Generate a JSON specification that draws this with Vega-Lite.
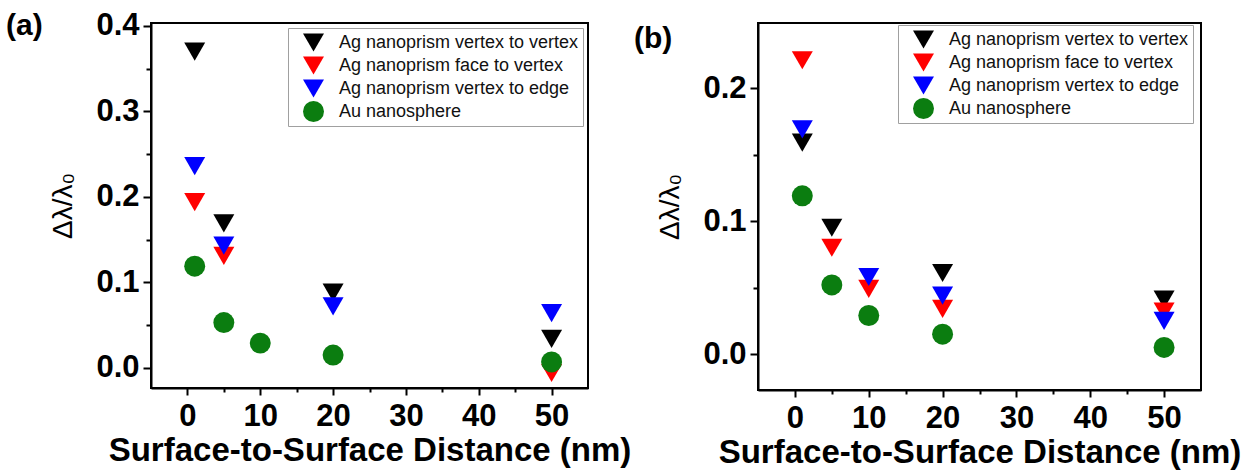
{
  "$schema": "https://vega.github.io/schema/vega-lite/v6.json",
  "background": "white",
  "padding": {"left": 5, "top": 8, "right": 5, "bottom": 0},
  "config": {
    "view": {"stroke": "black", "strokeWidth": 2},
    "axis": {
      "domainColor": "black", "domainWidth": 2, "tickColor": "black", "tickWidth": 2,
      "labelFont": "Liberation Sans", "labelFontWeight": "bold", "labelFontSize": 31, "labelColor": "black",
      "titleColor": "black", "grid": false
    },
    "legend": {
      "orient": "none", "title": null, "strokeColor": "#a0a0a0", "padding": 4,
      "symbolOffset": 11, "labelOffset": 15, "rowPadding": 3,
      "labelFont": "Liberation Sans", "labelFontSize": 18, "labelColor": "#111111",
      "symbolStrokeWidth": 0, "fillColor": "white", "labelLimit": 400
    }
  },
  "data": {"values": [
    {"panel": "a", "series": "Ag nanoprism vertex to vertex", "distance": 1, "ratio": 0.370},
    {"panel": "a", "series": "Ag nanoprism vertex to vertex", "distance": 5, "ratio": 0.169},
    {"panel": "a", "series": "Ag nanoprism vertex to vertex", "distance": 20, "ratio": 0.088},
    {"panel": "a", "series": "Ag nanoprism vertex to vertex", "distance": 50, "ratio": 0.034},
    {"panel": "a", "series": "Ag nanoprism face to vertex", "distance": 1, "ratio": 0.194},
    {"panel": "a", "series": "Ag nanoprism face to vertex", "distance": 5, "ratio": 0.131},
    {"panel": "a", "series": "Ag nanoprism face to vertex", "distance": 50, "ratio": -0.006},
    {"panel": "a", "series": "Ag nanoprism vertex to edge", "distance": 1, "ratio": 0.236},
    {"panel": "a", "series": "Ag nanoprism vertex to edge", "distance": 5, "ratio": 0.143},
    {"panel": "a", "series": "Ag nanoprism vertex to edge", "distance": 20, "ratio": 0.072},
    {"panel": "a", "series": "Ag nanoprism vertex to edge", "distance": 50, "ratio": 0.064},
    {"panel": "a", "series": "Au nanosphere", "distance": 1, "ratio": 0.119},
    {"panel": "a", "series": "Au nanosphere", "distance": 5, "ratio": 0.053},
    {"panel": "a", "series": "Au nanosphere", "distance": 10, "ratio": 0.029},
    {"panel": "a", "series": "Au nanosphere", "distance": 20, "ratio": 0.015},
    {"panel": "a", "series": "Au nanosphere", "distance": 50, "ratio": 0.007},
    {"panel": "b", "series": "Ag nanoprism vertex to vertex", "distance": 1, "ratio": 0.159},
    {"panel": "b", "series": "Ag nanoprism vertex to vertex", "distance": 5, "ratio": 0.095},
    {"panel": "b", "series": "Ag nanoprism vertex to vertex", "distance": 20, "ratio": 0.061},
    {"panel": "b", "series": "Ag nanoprism vertex to vertex", "distance": 50, "ratio": 0.041},
    {"panel": "b", "series": "Ag nanoprism face to vertex", "distance": 1, "ratio": 0.221},
    {"panel": "b", "series": "Ag nanoprism face to vertex", "distance": 5, "ratio": 0.080},
    {"panel": "b", "series": "Ag nanoprism face to vertex", "distance": 10, "ratio": 0.049},
    {"panel": "b", "series": "Ag nanoprism face to vertex", "distance": 20, "ratio": 0.034},
    {"panel": "b", "series": "Ag nanoprism face to vertex", "distance": 50, "ratio": 0.032},
    {"panel": "b", "series": "Ag nanoprism vertex to edge", "distance": 1, "ratio": 0.169},
    {"panel": "b", "series": "Ag nanoprism vertex to edge", "distance": 10, "ratio": 0.058},
    {"panel": "b", "series": "Ag nanoprism vertex to edge", "distance": 20, "ratio": 0.044},
    {"panel": "b", "series": "Ag nanoprism vertex to edge", "distance": 50, "ratio": 0.025},
    {"panel": "b", "series": "Au nanosphere", "distance": 1, "ratio": 0.119},
    {"panel": "b", "series": "Au nanosphere", "distance": 5, "ratio": 0.052},
    {"panel": "b", "series": "Au nanosphere", "distance": 10, "ratio": 0.029},
    {"panel": "b", "series": "Au nanosphere", "distance": 20, "ratio": 0.015},
    {"panel": "b", "series": "Au nanosphere", "distance": 50, "ratio": 0.005}
  ]},
  "bounds": "flush",
  "spacing": 170,
  "resolve": {"legend": {"color": "independent", "shape": "independent", "size": "independent"}},
  "hconcat": [
    {
      "title": {"text": "(a)", "anchor": "start", "frame": "group", "orient": "top", "offset": 0, "dx": -145, "dy": 55, "baseline": "alphabetic", "font": "Liberation Sans", "fontSize": 30, "fontWeight": "bold", "color": "black"},
      "width": 437, "height": 365,
      "transform": [{"filter": "datum.panel === 'a'"}],
      "mark": {"type": "point", "filled": true, "opacity": 1, "strokeWidth": 0},
      "encoding": {
        "x": {"field": "distance", "type": "quantitative",
          "scale": {"domain": [-5, 55], "nice": false, "zero": false},
          "axis": {"values": [0, 5, 10, 15, 20, 25, 30, 35, 40, 45, 50], "labelExpr": "datum.value % 10 === 0 ? datum.label : ''",
            "tickSize": {"condition": {"test": "datum.value % 10 === 0", "value": 7}, "value": 4},
            "labelPadding": 6, "title": "Surface-to-Surface Distance (nm)", "titleFont": "Liberation Sans", "titleFontWeight": "bold", "titleFontSize": 33, "titlePadding": 3}},
        "y": {"field": "ratio", "type": "quantitative",
          "scale": {"domain": [-0.0235, 0.4035], "nice": false, "zero": false},
          "axis": {"values": [0, 0.05, 0.1, 0.15, 0.2, 0.25, 0.3, 0.35, 0.4],
            "labelExpr": "round(datum.value*100) % 10 === 0 ? format(datum.value, '.1f') : ''",
            "tickSize": {"condition": {"test": "round(datum.value*100) % 10 === 0", "value": 8}, "value": 5},
            "labelPadding": 4, "title": "Δλ/λ₀", "titleFont": "Liberation Sans", "titleFontWeight": "normal", "titleFontSize": 28, "titlePadding": 18}},
        "color": {"field": "series", "type": "nominal",
          "scale": {"domain": ["Ag nanoprism vertex to vertex", "Ag nanoprism face to vertex", "Ag nanoprism vertex to edge", "Au nanosphere"], "range": ["#000000", "#ff0000", "#0000ff", "#0b7d10"]},
          "legend": {"legendX": 137, "legendY": 5}},
        "shape": {"field": "series", "type": "nominal",
          "scale": {"domain": ["Ag nanoprism vertex to vertex", "Ag nanoprism face to vertex", "Ag nanoprism vertex to edge", "Au nanosphere"], "range": ["triangle-down", "triangle-down", "triangle-down", "circle"]},
          "legend": {"legendX": 137, "legendY": 5}},
        "size": {"field": "series", "type": "nominal",
          "scale": {"domain": ["Ag nanoprism vertex to vertex", "Ag nanoprism face to vertex", "Ag nanoprism vertex to edge", "Au nanosphere"], "range": [440, 440, 440, 320]},
          "legend": {"legendX": 137, "legendY": 5}}
      }
    },
    {
      "title": {"text": "(b)", "anchor": "start", "frame": "group", "orient": "top", "offset": 0, "dx": -124, "dy": 55, "baseline": "alphabetic", "font": "Liberation Sans", "fontSize": 30, "fontWeight": "bold", "color": "black"},
      "width": 443, "height": 367,
      "transform": [{"filter": "datum.panel === 'b'"}],
      "mark": {"type": "point", "filled": true, "opacity": 1, "strokeWidth": 0},
      "encoding": {
        "x": {"field": "distance", "type": "quantitative",
          "scale": {"domain": [-5, 55], "nice": false, "zero": false},
          "axis": {"values": [0, 5, 10, 15, 20, 25, 30, 35, 40, 45, 50], "labelExpr": "datum.value % 10 === 0 ? datum.label : ''",
            "tickSize": {"condition": {"test": "datum.value % 10 === 0", "value": 7}, "value": 4},
            "labelPadding": 6, "title": "Surface-to-Surface Distance (nm)", "titleFont": "Liberation Sans", "titleFontWeight": "bold", "titleFontSize": 33, "titlePadding": 3}},
        "y": {"field": "ratio", "type": "quantitative",
          "scale": {"domain": [-0.027, 0.249], "nice": false, "zero": false},
          "axis": {"values": [0, 0.05, 0.1, 0.15, 0.2],
            "labelExpr": "round(datum.value*100) % 10 === 0 ? format(datum.value, '.1f') : ''",
            "tickSize": {"condition": {"test": "round(datum.value*100) % 10 === 0", "value": 8}, "value": 5},
            "labelPadding": 4, "title": "Δλ/λ₀", "titleFont": "Liberation Sans", "titleFontWeight": "normal", "titleFontSize": 28, "titlePadding": 18}},
        "color": {"field": "series", "type": "nominal",
          "scale": {"domain": ["Ag nanoprism vertex to vertex", "Ag nanoprism face to vertex", "Ag nanoprism vertex to edge", "Au nanosphere"], "range": ["#000000", "#ff0000", "#0000ff", "#0b7d10"]},
          "legend": {"legendX": 140, "legendY": 2}},
        "shape": {"field": "series", "type": "nominal",
          "scale": {"domain": ["Ag nanoprism vertex to vertex", "Ag nanoprism face to vertex", "Ag nanoprism vertex to edge", "Au nanosphere"], "range": ["triangle-down", "triangle-down", "triangle-down", "circle"]},
          "legend": {"legendX": 140, "legendY": 2}},
        "size": {"field": "series", "type": "nominal",
          "scale": {"domain": ["Ag nanoprism vertex to vertex", "Ag nanoprism face to vertex", "Ag nanoprism vertex to edge", "Au nanosphere"], "range": [440, 440, 440, 320]},
          "legend": {"legendX": 140, "legendY": 2}}
      }
    }
  ]
}
